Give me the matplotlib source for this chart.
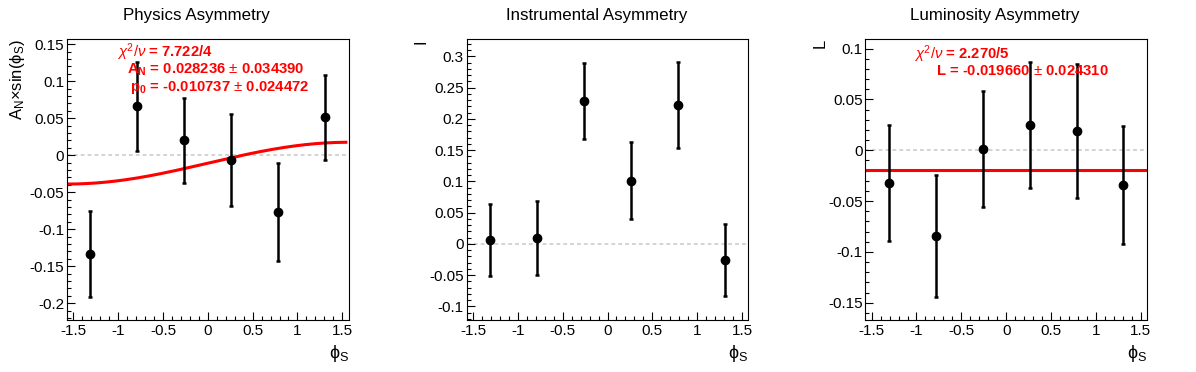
import numpy as np
import matplotlib
matplotlib.use("Agg")
import matplotlib.pyplot as plt
from matplotlib.ticker import MultipleLocator, FormatStrFormatter

plt.rcParams['font.family'] = ['Liberation Sans', 'DejaVu Sans']
plt.rcParams['mathtext.fontset'] = 'custom'
plt.rcParams['mathtext.rm'] = 'Liberation Sans'
plt.rcParams['mathtext.it'] = 'Liberation Sans:italic'
plt.rcParams['mathtext.bf'] = 'Liberation Sans:bold'
plt.rcParams['axes.unicode_minus'] = False

# bin centres in phi_S (6 bins over [-pi/2, pi/2])
phi = [-1.309, -0.785, -0.262, 0.262, 0.785, 1.309]

# physics asymmetry
phys_val = [-0.133, 0.066, 0.020, -0.007, -0.077, 0.051]
phys_err = [0.058, 0.060, 0.057, 0.062, 0.066, 0.058]
A_N, p0 = 0.028236, -0.010737

# instrumental asymmetry
inst_val = [0.006, 0.009, 0.229, 0.101, 0.222, -0.026]
inst_err = [0.058, 0.059, 0.061, 0.062, 0.069, 0.057]

# luminosity asymmetry
lumi_val = [-0.032, -0.084, 0.001, 0.025, 0.019, -0.034]
lumi_err = [0.057, 0.060, 0.057, 0.062, 0.066, 0.058]
L_fit = -0.019660

fig = plt.figure(figsize=(11.96, 3.72), dpi=100)
lefts = [0.056, 0.3902, 0.7235]
axs = [fig.add_axes([l, 0.1398, 0.2355, 0.7554]) for l in lefts]

def style(ax, ylim, ylabel, ylab_x):
    ax.set_xlim(-np.pi / 2, np.pi / 2)
    ax.set_ylim(*ylim)
    ax.xaxis.set_major_locator(MultipleLocator(0.5))
    ax.xaxis.set_minor_locator(MultipleLocator(0.1))
    ax.yaxis.set_major_locator(MultipleLocator(0.05))
    ax.yaxis.set_minor_locator(MultipleLocator(0.01))
    ax.xaxis.set_major_formatter(FormatStrFormatter('%g'))
    ax.yaxis.set_major_formatter(FormatStrFormatter('%g'))
    ax.tick_params(which='both', direction='in', top=False, right=False,
                   labelsize=11, width=0.8)
    ax.tick_params(which='major', length=5.8)
    ax.tick_params(which='minor', length=2.9)
    ax.tick_params(axis='x', pad=3)
    ax.tick_params(axis='y', pad=2)
    for s in ax.spines.values():
        s.set_linewidth(0.8)
    ax.axhline(0, color='#c8c8c8', ls=(0, (2.5, 2)), lw=1.1, zorder=1)
    ax.text(ylab_x, 1.0, ylabel, transform=ax.transAxes, rotation=90,
            ha='center', va='top', fontsize=12)
    ax.text(1.0, -0.12, r'ϕ$_{\mathrm{S}}$', transform=ax.transAxes,
            ha='right', va='center', fontsize=13)

def points(ax, vals, errs):
    ax.errorbar(phi, vals, yerr=errs, fmt='o', color='black', ms=6,
                elinewidth=1.8, capsize=1.6, capthick=1.8, zorder=3)

titles = ['Physics Asymmetry', 'Instrumental Asymmetry', 'Luminosity Asymmetry']
for ax, t in zip(axs, titles):
    ax.text(0.461, 1.085, t, transform=ax.transAxes, ha='center', va='center',
            fontsize=12.2)

# panel 1
ax = axs[0]
style(ax, (-0.2226, 0.157), r'A$_{\mathrm{N}}$×sin(ϕ$_{\mathrm{S}}$)', -0.174)
xs = np.linspace(-np.pi / 2, 1.54, 200)
ax.plot(xs, A_N * np.sin(xs) + p0, color='red', lw=2.2, zorder=2)
points(ax, phys_val, phys_err)
red = dict(transform=ax.transAxes, color='red', fontweight='bold',
           fontsize=10.7, ha='left', va='center')
ax.text(0.177, 0.954, r'$\chi^{2}/\nu$ = 7.722/4', **red)
ax.text(0.213, 0.890, r'A$_{\mathbf{N}}$ = 0.028236 $\pm$ 0.034390', **red)
ax.text(0.223, 0.826, r'p$_{\mathbf{0}}$ = -0.010737 $\pm$ 0.024472', **red)

# panel 2
ax = axs[1]
style(ax, (-0.122, 0.328), 'I', -0.163)
points(ax, inst_val, inst_err)

# panel 3
ax = axs[2]
style(ax, (-0.167, 0.1095), 'L', -0.161)
ax.plot([-np.pi / 2, np.pi / 2], [L_fit, L_fit], color='red', lw=2.2, zorder=2)
points(ax, lumi_val, lumi_err)
red['transform'] = ax.transAxes
ax.text(0.173, 0.947, r'$\chi^{2}/\nu$ = 2.270/5', **red)
ax.text(0.250, 0.886, r'L = -0.019660 $\pm$ 0.024310', **red)

fig.savefig('out.png', dpi=100)
